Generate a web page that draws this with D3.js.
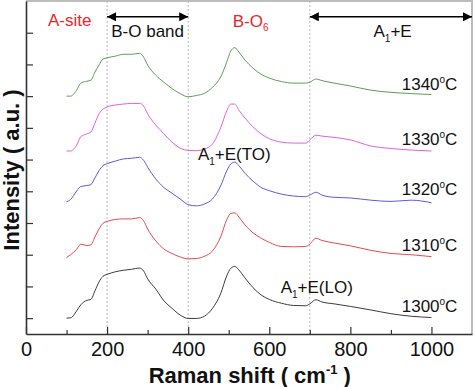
<!DOCTYPE html>
<html>
<head>
<meta charset="utf-8">
<script src="https://cdn.jsdelivr.net/npm/d3@7"></script>
<style>
  body { margin: 0; background: #fff; }
  svg { display: block; font-family: "Liberation Sans", Arial, sans-serif; }
</style>
</head>
<body>
<script>
// Raman shift sample points (cm-1)
const shift = [100,110,125,135,150,160,170,180,190,200,220,240,260,280,290,300,
  320,340,360,380,400,420,440,460,480,495,505,515,525,540,560,580,600,
  630,660,690,700,715,730,760,800,850,900,950,1000];

// intensities relative to each spectrum's own baseline
const i1300 = [0,0.01,0.23,0.42,0.56,0.59,0.86,1.14,1.32,1.38,1.46,1.51,1.54,1.58,1.49,1.24,
  0.92,0.55,0.31,0.10,-0.01,-0.01,0.06,0.31,0.77,1.33,1.57,1.63,1.52,1.27,0.96,0.73,0.59,
  0.47,0.40,0.39,0.45,0.58,0.51,0.45,0.37,0.26,0.14,0.06,0.02];
const i1310 = [0,0.09,0.26,0.42,0.38,0.40,0.65,0.90,1.08,1.14,1.20,1.22,1.22,1.26,1.16,0.90,
  0.53,0.27,0.13,0.02,-0.04,-0.03,0.04,0.21,0.65,1.19,1.39,1.41,1.28,1.03,0.78,0.61,0.48,
  0.35,0.34,0.35,0.42,0.61,0.54,0.46,0.37,0.23,0.13,0.09,0.03];
const i1320 = [0,0.07,0.34,0.48,0.51,0.54,0.75,0.98,1.14,1.20,1.28,1.35,1.37,1.40,1.31,1.09,
  0.72,0.45,0.27,0.09,-0.09,-0.13,-0.07,0.09,0.50,0.97,1.19,1.25,1.14,0.90,0.65,0.45,0.35,
  0.24,0.18,0.16,0.21,0.30,0.21,0.14,0.12,0.05,0.01,0.05,-0.03];
const i1330 = [0,0,0.19,0.45,0.54,0.60,0.88,1.17,1.32,1.39,1.45,1.48,1.50,1.50,1.42,1.17,
  0.82,0.54,0.28,0.09,0.02,0.01,0.06,0.22,0.73,1.26,1.48,1.48,1.29,1.04,0.76,0.54,0.39,
  0.28,0.25,0.25,0.35,0.50,0.47,0.43,0.35,0.16,0.08,0.03,0];
const i1340 = [0,0,0.19,0.41,0.47,0.50,0.76,0.98,1.17,1.21,1.26,1.32,1.32,1.35,1.23,0.98,
  0.66,0.44,0.24,0.08,-0.02,0.02,0.09,0.28,0.60,1.07,1.42,1.53,1.39,1.14,0.88,0.69,0.57,
  0.46,0.41,0.41,0.44,0.54,0.49,0.41,0.32,0.19,0.12,0.08,0.05];

const temps = ["1300", "1310", "1320", "1330", "1340"];
const offsets = [0, 1.91, 3.67, 5.27, 7.00];
const spectra = [i1300, i1310, i1320, i1330, i1340];
const colors = ["#3c3c3c", "#e8484e", "#5a5ae0", "#e060e0", "#5e9e55"];

const xTicks = [0, 200, 400, 600, 800, 1000];
const xMinor = [100, 300, 500, 700, 900];
const yTicks = [0, 1, 2, 3, 4, 5, 6, 7, 8, 9];
const regions = [200, 400, 700];

const W = 474, H = 387;
const svg = d3.select("body").append("svg").attr("width", W).attr("height", H);

const x = d3.scaleLinear().domain([0, 1100]).range([26, 472]);
const y = d3.scaleLinear().domain([-0.5, 10]).range([334, 1]);

// frame top/right
svg.append("path")
  .attr("d", `M${x(0)},${y(10)} H${x(1100)} V${y(-0.5)}`)
  .attr("fill", "none").attr("stroke", "#bdbdbd").attr("stroke-width", 2);

// dotted region dividers
svg.selectAll("line.div").data(regions).enter().append("line")
  .attr("x1", d => x(d)).attr("x2", d => x(d))
  .attr("y1", y(10)).attr("y2", y(-0.5))
  .attr("stroke", "#b8b8b8").attr("stroke-dasharray", "2,2");

// spectra
const line = d3.line().curve(d3.curveMonotoneX);
spectra.forEach((s, k) => {
  svg.append("path")
    .attr("d", line(shift.map((v, i) => [x(v), y(s[i] + offsets[k])])))
    .attr("fill", "none").attr("stroke", colors[k]).attr("stroke-width", 1);
});

// axes
const gx = svg.append("g").attr("transform", `translate(0,${y(-0.5)})`)
  .call(d3.axisBottom(x).tickValues(xTicks).tickFormat(d3.format("d"))
    .tickSizeInner(-7).tickSizeOuter(0).tickPadding(8));
svg.append("g").attr("transform", `translate(0,${y(-0.5)})`)
  .call(d3.axisBottom(x).tickValues(xMinor).tickSizeInner(-4).tickSizeOuter(0).tickFormat(""))
  .select(".domain").remove();
svg.append("g").attr("transform", `translate(${x(0)},0)`)
  .call(d3.axisLeft(y).tickValues(yTicks).tickSizeInner(-7).tickSizeOuter(0).tickFormat(""));
gx.selectAll("text").attr("font-size", 20).attr("font-family", "Liberation Sans, Arial, sans-serif").attr("fill", "#111");
svg.selectAll(".domain").attr("stroke", "#333").attr("stroke-width", 1.6);
svg.selectAll(".tick line").attr("stroke", "#333").attr("stroke-width", 1.2);

// axis titles
const xt = svg.append("text").attr("x", x(552)).attr("y", 383)
  .attr("text-anchor", "middle").attr("font-size", 22).attr("font-weight", "bold").attr("fill", "#111");
xt.append("tspan").text("Raman shift ( cm");
xt.append("tspan").text("-1").attr("font-size", 13).attr("dy", -9);
xt.append("tspan").text(" )").attr("dy", 9);

svg.append("text").attr("transform", "translate(19,170) rotate(-90)")
  .attr("text-anchor", "middle").attr("font-size", 22).attr("font-weight", "bold").attr("fill", "#111")
  .text("Intensity ( a.u. )");

// arrows
const defs = svg.append("defs");
defs.append("marker").attr("id", "ah").attr("viewBox", "0 0 10 10")
  .attr("refX", 10).attr("refY", 5).attr("markerUnits", "userSpaceOnUse")
  .attr("markerWidth", 11).attr("markerHeight", 9).attr("orient", "auto-start-reverse")
  .append("path").attr("d", "M0,0 L10,5 L0,10 z").attr("fill", "#000");
[[200, 400], [700, 1100]].forEach(([a, b]) => {
  svg.append("line").attr("x1", x(a)).attr("x2", x(b)).attr("y1", y(9.5)).attr("y2", y(9.5))
    .attr("stroke", "#000").attr("stroke-width", 1.5)
    .attr("marker-start", "url(#ah)").attr("marker-end", "url(#ah)");
});

// annotations
const red = "#e8262b";
svg.append("text").attr("x", x(54)).attr("y", y(9.21)).attr("font-size", 17).attr("fill", red).text("A-site");
svg.append("text").attr("x", x(300)).attr("y", y(8.86)).attr("text-anchor", "middle")
  .attr("font-size", 17).attr("fill", "#111").text("B-O band");
const bo = svg.append("text").attr("x", x(510)).attr("y", y(9.18)).attr("font-size", 17).attr("fill", red);
bo.append("tspan").text("B-O");
bo.append("tspan").text("6").attr("font-size", 10).attr("dy", 4);

function aLabel(xv, yv, rest) {
  const t = svg.append("text").attr("x", x(xv)).attr("y", y(yv)).attr("font-size", 17).attr("fill", "#111");
  t.append("tspan").text("A");
  t.append("tspan").text("1").attr("font-size", 10).attr("dy", 5);
  t.append("tspan").text(rest).attr("dy", -5);
}
aLabel(857, 8.86, "+E");
aLabel(424, 4.99, "+E(TO)");
aLabel(628, 0.79, "+E(LO)");

// temperature labels
temps.forEach((t, k) => {
  const lab = svg.append("text").attr("x", x(1064)).attr("y", y(offsets[k] + 0.2))
    .attr("text-anchor", "end").attr("font-size", 17).attr("fill", "#111");
  lab.append("tspan").text(t);
  lab.append("tspan").text("o").attr("font-size", 10).attr("dy", -7);
  lab.append("tspan").text("C").attr("dy", 7);
});
</script>
</body>
</html>
